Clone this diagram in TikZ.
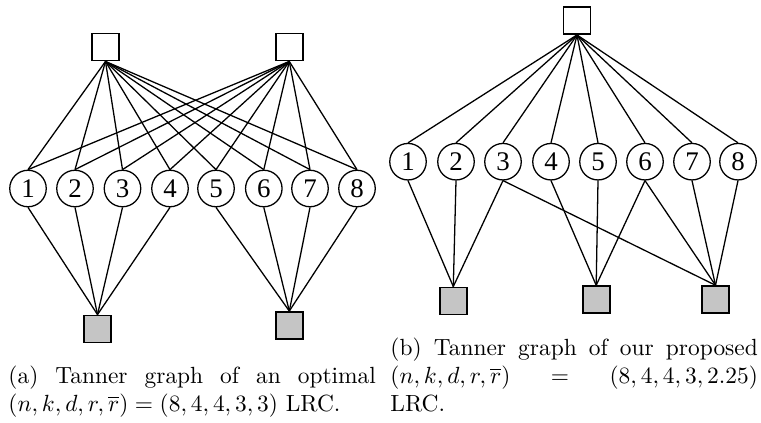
\documentclass[tikz,border=0pt]{standalone}
\usepackage{fontspec}
\newfontfamily\digitfont{Liberation Serif}
\definecolor{lgray}{RGB}{197,197,197}
\newcommand\fullline[1]{\makebox[\linewidth][s]{\spaceskip=0pt\xspaceskip=0pt\relax #1}}
\begin{document}
\begin{tikzpicture}[x=0.42735pt,y=-0.42735pt,
  vnode/.style={circle,draw,line width=0.55pt,fill=white,minimum size=15.6pt,inner sep=0pt,font=\digitfont\fontsize{11.5}{12}\selectfont},
  gpar/.style={rectangle,draw,line width=0.75pt,fill=white,minimum size=11.6pt,inner sep=0pt},
  lpar/.style={gpar,fill=lgray},
  edge/.style={line width=0.55pt},
  capt/.style={text width=157pt,align=left,inner sep=0pt,anchor=base west,font=\fontsize{10}{12}\selectfont}]
\useasboundingbox (0,0) rectangle (761,422);
% (a)
\node[gpar] (aT1) at (105.5,47) {};
\node[gpar] (aT2) at (289.3,47) {};
\foreach \i/\x in {1/28,2/75,3/122.5,4/170,5/216,6/263.8,7/310,8/357}
  \node[vnode] (a\i) at (\x,188.5) {\i};
\node[lpar] (aB1) at (97.5,329) {};
\node[lpar] (aB2) at (289.3,325.5) {};
\foreach \i in {1,...,8} {
  \draw[edge] (aT1.south) -- (a\i.north);
  \draw[edge] (aT2.south) -- (a\i.north);
}
\foreach \i in {1,...,4} \draw[edge] (a\i.south) -- (aB1.north);
\foreach \i in {5,...,8} \draw[edge] (a\i.south) -- (aB2.north);
% (b)
\node[gpar] (bT) at (577,20.5) {};
\foreach \i/\x in {1/408,2/456,3/503,4/551,5/598,6/645,7/692,8/738}
  \node[vnode] (b\i) at (\x,161.7) {\i};
\node[lpar] (bB1) at (453.3,301) {};
\node[lpar] (bB2) at (596.2,299.7) {};
\node[lpar] (bB3) at (715.5,299.7) {};
\foreach \i in {1,...,8} \draw[edge] (bT.south) -- (b\i.north);
\foreach \i in {1,2,3} \draw[edge] (b\i.south) -- (bB1.north);
\foreach \i in {4,5,6} \draw[edge] (b\i.south) -- (bB2.north);
\foreach \i in {3,6,7,8} \draw[edge] (b\i.south) -- (bB3.north);
% captions
\node[capt] (capa) at (8,383) {\fullline{(a) Tanner graph of an optimal}\\$(n,k,d,r,\overline{r})=(8,4,4,3,3)$ LRC.};
\node[capt] (capb) at (390,355) {\fullline{(b) Tanner graph of our proposed}\\\makebox[\linewidth]{$(n,k,d,r,\overline{r})$\hfill$=$\hfill$(8,4,4,3,2.25)$}\\LRC.};
\end{tikzpicture}
\end{document}
